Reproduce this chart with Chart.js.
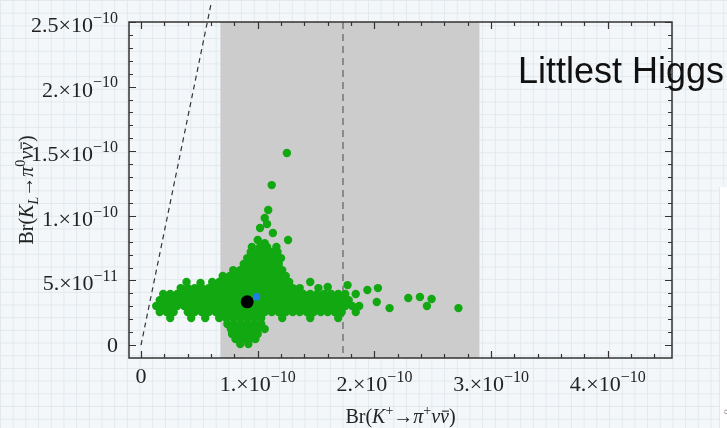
<!DOCTYPE html>
<html>
<head>
<meta charset="utf-8">
<script src="https://cdn.jsdelivr.net/npm/chart.js@4.4.1/dist/chart.umd.min.js"></script>
<style>
  html, body { margin: 0; padding: 0; }
  body {
    width: 727px; height: 428px; overflow: hidden; position: relative;
    background-color: #f4f7f9;
    background-image:
      linear-gradient(to right, #e1e9ef 1px, transparent 1px),
      linear-gradient(to bottom, #e1e9ef 1px, transparent 1px);
    background-size: 12.7px 12.7px;
  }
  #plot { position: absolute; left: 0; top: 0; }
  #side {
    position: absolute; left: 719px; top: 187px; width: 20px; height: 260px;
    background: #fff; border-left: 1px solid #e6e6e6; overflow: hidden;
  }
  #side span {
    position: absolute; left: -44px; top: 215px; width: 110px;
    transform: rotate(-90deg); font: 13px "Liberation Serif", serif; color: #999;
    white-space: nowrap;
  }
</style>
</head>
<body>
<canvas id="plot" width="727" height="428"></canvas>
<div id="side"><span>Br(K<sub>L</sub>→π<sup>0</sup>νν)</span></div>
<script>
'use strict';

// ── DATA ───────────────────────────────────────────────────
// x in units of 1e-10 (K+ branching ratio), y in units of 1e-11 (KL branching ratio)
// tick labels: "base^exponent"
const xTicks = [0, 1, 2, 3, 4];
const xTickLabels = ['0', '1.×10^−10', '2.×10^−10', '3.×10^−10', '4.×10^−10'];
const yTicks = [0, 5, 10, 15, 20, 25];
const yTickLabels = ['0', '5.×10^−11', '1.×10^−10', '1.5×10^−10', '2.×10^−10', '2.5×10^−10'];

// measured K+ -> pi+ nu nubar (central value and 1 sigma band)
const expCentral = 1.73;
const expLow = 0.68;
const expHigh = 2.90;

// Grossman-Nir bound
const gnBound = [[0, 0], [0.60, 26.4]];

const smPoint = [[0.91, 3.35]];
const refPoint = [[0.99, 3.74]];

// parameter scan, grouped by KL value
const scanRows = [
  { y: 7.59, x: [0.95, 1.02, 1.08, 1.16] },
  { y: 7.20, x: [0.94, 1.00, 1.06, 1.12, 1.17] },
  { y: 6.73, x: [0.91, 0.97, 1.03, 1.09, 1.15, 1.20] },
  { y: 6.27, x: [0.88, 0.94, 1.00, 1.06, 1.12, 1.18] },
  { y: 5.80, x: [0.79, 0.85, 0.91, 0.97, 1.03, 1.09, 1.15, 1.21] },
  { y: 5.34, x: [0.70, 0.76, 0.82, 0.88, 0.94, 1.00, 1.06, 1.12, 1.18, 1.24] },
  { y: 4.88, x: [0.39, 0.61, 0.67, 0.73, 0.79, 0.85, 0.91, 0.97, 1.03, 1.09, 1.15, 1.21, 1.27, 1.45] },
  { y: 4.41, x: [0.34, 0.40, 0.46, 0.52, 0.58, 0.64, 0.70, 0.76, 0.82, 0.88, 0.94, 1.00, 1.06, 1.12, 1.18, 1.24, 1.30, 1.36, 1.52, 2.03] },
  { y: 3.95, x: [0.19, 0.25, 0.31, 0.37, 0.43, 0.49, 0.55, 0.61, 0.67, 0.73, 0.79, 0.85, 0.91, 0.97, 1.03, 1.09, 1.15, 1.21, 1.27, 1.33, 1.39, 1.45, 1.51, 1.57, 1.63, 1.69, 1.75, 1.84] },
  { y: 3.48, x: [0.16, 0.22, 0.28, 0.34, 0.40, 0.46, 0.52, 0.58, 0.64, 0.70, 0.76, 0.82, 0.88, 0.94, 1.00, 1.06, 1.12, 1.18, 1.24, 1.30, 1.36, 1.42, 1.48, 1.54, 1.60, 1.66, 1.72, 1.78] },
  { y: 3.02, x: [0.13, 0.19, 0.25, 0.31, 0.37, 0.43, 0.49, 0.55, 0.61, 0.67, 0.73, 0.79, 0.85, 0.91, 0.97, 1.03, 1.09, 1.15, 1.21, 1.27, 1.33, 1.39, 1.45, 1.51, 1.57, 1.63, 1.69, 1.75, 1.81, 1.87] },
  { y: 2.55, x: [0.16, 0.22, 0.28, 0.40, 0.46, 0.52, 0.58, 0.64, 0.70, 0.76, 0.82, 0.88, 0.94, 1.00, 1.06, 1.12, 1.18, 1.24, 1.30, 1.36, 1.42, 1.48, 1.54, 1.60, 1.66, 1.72, 1.84] },
  { y: 2.09, x: [0.25, 0.43, 0.55, 0.67, 0.73, 0.79, 0.85, 0.91, 0.97, 1.03, 1.21, 1.45, 1.69] },
  { y: 1.63, x: [0.74, 0.80, 0.86, 0.92, 0.98, 1.03] },
  { y: 1.24, x: [0.77, 0.83, 0.89, 0.95, 1.00, 1.06] },
  { y: 0.85, x: [0.78, 0.84, 0.90, 0.96, 1.00] },
  { y: 0.46, x: [0.81, 0.87, 0.93, 0.98] },
  { y: 0.08, x: [0.85, 0.92] }
];

// stray scan points outside the main cloud
const scanStray = [
  [1.25, 14.86], [1.12, 12.38], [1.09, 10.45], [1.06, 9.83], [1.08, 9.37],
  [1.02, 9.06], [1.13, 8.67], [1.00, 8.13], [1.26, 8.13], [1.06, 7.89],
  [0.51, 4.80], [1.77, 4.64], [1.60, 4.49], [1.94, 4.26],
  [2.02, 3.33], [2.13, 2.86], [2.29, 3.64], [2.39, 3.72], [2.49, 3.56],
  [2.45, 3.02], [2.72, 2.86]
];

// ── HELPERS ────────────────────────────────────────────────
const SERIF = '"Liberation Serif", "Times New Roman", serif';
const TICK_SIZE = 22;
const TITLE_SIZE = 20;
const toXY = ([x, y]) => ({ x, y });

const scanPoints = scanRows
  .flatMap(r => r.x.map(x => ({ x, y: r.y })))
  .concat(scanStray.map(toXY));

// text built from pieces: { t, i: italic, s: 1 sup / -1 sub, bar: overline }
function pieceFont(p, size) {
  return `${p.i ? 'italic ' : ''}${p.s ? Math.round(size * 0.72) : size}px ${SERIF}`;
}
function richWidth(ctx, parts, size) {
  let w = 0;
  parts.forEach(p => { ctx.font = pieceFont(p, size); w += ctx.measureText(p.t).width; });
  return w;
}
// x is the left end, y the baseline
function drawRich(ctx, parts, size, x, y) {
  ctx.textAlign = 'left';
  ctx.textBaseline = 'alphabetic';
  parts.forEach(p => {
    ctx.font = pieceFont(p, size);
    const dy = p.s === 1 ? -size * 0.42 : p.s === -1 ? size * 0.25 : 0;
    const w = ctx.measureText(p.t).width;
    ctx.fillText(p.t, x, y + dy);
    if (p.bar) {
      ctx.fillRect(x + 2, y - size * 0.62, w - 2, 1.1);
    }
    x += w;
  });
}

const tickParts = label => {
  const [base, exp] = label.split('^');
  return exp ? [{ t: base }, { t: exp, s: 1 }] : [{ t: base }];
};

const xTitle = [
  { t: 'Br(' }, { t: 'K', i: 1 }, { t: '+', s: 1 }, { t: '→' }, { t: 'π', i: 1 },
  { t: '+', s: 1 }, { t: 'ν', i: 1 }, { t: 'ν', i: 1, bar: 1 }, { t: ')' }
];
const yTitle = [
  { t: 'Br(' }, { t: 'K', i: 1 }, { t: 'L', i: 1, s: -1 }, { t: '→' }, { t: 'π', i: 1 },
  { t: '0', s: 1 }, { t: 'ν', i: 1 }, { t: 'ν', i: 1, bar: 1 }, { t: ')' }
];

// ── PLUGIN: band, frame, inward ticks, labels ──────────────
const framePlugin = {
  id: 'frame',
  beforeDatasetsDraw(chart) {
    const { ctx, chartArea: a, scales: { x } } = chart;
    ctx.save();
    const x0 = x.getPixelForValue(expLow), x1 = x.getPixelForValue(expHigh);
    ctx.fillStyle = '#cccccc';
    ctx.fillRect(x0, a.top, x1 - x0, a.bottom - a.top);
    const xc = Math.round(x.getPixelForValue(expCentral));
    ctx.strokeStyle = '#8a8a8a';
    ctx.lineWidth = 2;
    ctx.setLineDash([7, 5]);
    ctx.beginPath();
    ctx.moveTo(xc, a.top);
    ctx.lineTo(xc, a.bottom);
    ctx.stroke();
    ctx.restore();
  },
  afterDraw(chart) {
    const { ctx, chartArea: a, scales: { x, y } } = chart;
    ctx.save();
    ctx.strokeStyle = '#333';
    ctx.lineWidth = 1.5;
    ctx.strokeRect(a.left, a.top, a.right - a.left, a.bottom - a.top);

    // ticks point inwards on all four sides
    ctx.lineWidth = 1.2;
    ctx.beginPath();
    for (let k = 0; k <= 45; k += 2) {
      const px = Math.round(x.getPixelForValue(k / 10)) + 0.5;
      if (px <= a.left || px >= a.right) continue;
      const len = k % 10 === 0 ? 7 : 4;
      ctx.moveTo(px, a.bottom); ctx.lineTo(px, a.bottom - len);
      ctx.moveTo(px, a.top); ctx.lineTo(px, a.top + len);
    }
    for (let v = 0; v <= 25; v += 1) {
      const py = Math.round(y.getPixelForValue(v)) + 0.5;
      if (py <= a.top || py >= a.bottom) continue;
      const len = v % 5 === 0 ? 7 : 4;
      ctx.moveTo(a.left, py); ctx.lineTo(a.left + len, py);
      ctx.moveTo(a.right, py); ctx.lineTo(a.right - len, py);
    }
    ctx.stroke();

    // tick labels with real superscripts
    ctx.fillStyle = '#222';
    x.ticks.forEach(t => {
      const parts = tickParts(xTickLabels[xTicks.indexOf(t.value)]);
      const w = richWidth(ctx, parts, TICK_SIZE);
      const base = a.bottom + (parts.length > 1 ? 33 : 25);
      drawRich(ctx, parts, TICK_SIZE, x.getPixelForValue(t.value) - w / 2, base);
    });
    y.ticks.forEach(t => {
      const parts = tickParts(yTickLabels[yTicks.indexOf(t.value)]);
      const w = richWidth(ctx, parts, TICK_SIZE);
      const base = y.getPixelForValue(t.value) + (parts.length > 1 ? 10 : 7);
      drawRich(ctx, parts, TICK_SIZE, a.left - 11 - w, base);
    });

    // axis titles
    const xw = richWidth(ctx, xTitle, TITLE_SIZE);
    drawRich(ctx, xTitle, TITLE_SIZE, (a.left + a.right) / 2 - xw / 2, 423);
    ctx.save();
    ctx.translate(33, (a.top + a.bottom) / 2);
    ctx.rotate(-Math.PI / 2);
    const yw = richWidth(ctx, yTitle, TITLE_SIZE);
    drawRich(ctx, yTitle, TITLE_SIZE, -yw / 2, 0);
    ctx.restore();

    ctx.fillStyle = '#111';
    ctx.font = '36px "Liberation Sans", Arial, sans-serif';
    ctx.textAlign = 'left';
    ctx.textBaseline = 'alphabetic';
    ctx.fillText('Littlest Higgs', 518, 83);
    ctx.restore();
  }
};

// ── CHART ──────────────────────────────────────────────────
new Chart(document.getElementById('plot'), {
  type: 'scatter',
  data: {
    datasets: [
      { data: refPoint.map(toXY), backgroundColor: '#2080e0', pointRadius: 3.8, order: 0 },
      { data: smPoint.map(toXY), backgroundColor: '#000', pointRadius: 6.5, order: 1 },
      { data: scanPoints, backgroundColor: '#12a812', pointRadius: 4.2, order: 2 },
      {
        type: 'line', data: gnBound.map(toXY), borderColor: '#333', borderWidth: 1.2,
        borderDash: [5, 4], pointRadius: 0, clip: false, order: 3
      }
    ]
  },
  options: {
    responsive: false,
    animation: false,
    events: [],
    layout: { padding: { top: 22, right: 55, left: 0, bottom: 0 } },
    elements: { point: { borderWidth: 0, hoverRadius: 0 } },
    plugins: { legend: { display: false }, tooltip: { enabled: false } },
    scales: {
      x: {
        type: 'linear', min: -0.103, max: 4.55,
        grid: { display: false, drawTicks: false },
        border: { display: false },
        afterBuildTicks: s => { s.ticks = xTicks.map(v => ({ value: v })); },
        afterFit: s => { s.height = 70; },
        ticks: { display: false }
      },
      y: {
        type: 'linear', min: -1.0, max: 25,
        grid: { display: false, drawTicks: false },
        border: { display: false },
        afterBuildTicks: s => { s.ticks = yTicks.map(v => ({ value: v })); },
        afterFit: s => { s.width = 129; },
        ticks: { display: false }
      }
    }
  },
  plugins: [framePlugin]
});
</script>
</body>
</html>
